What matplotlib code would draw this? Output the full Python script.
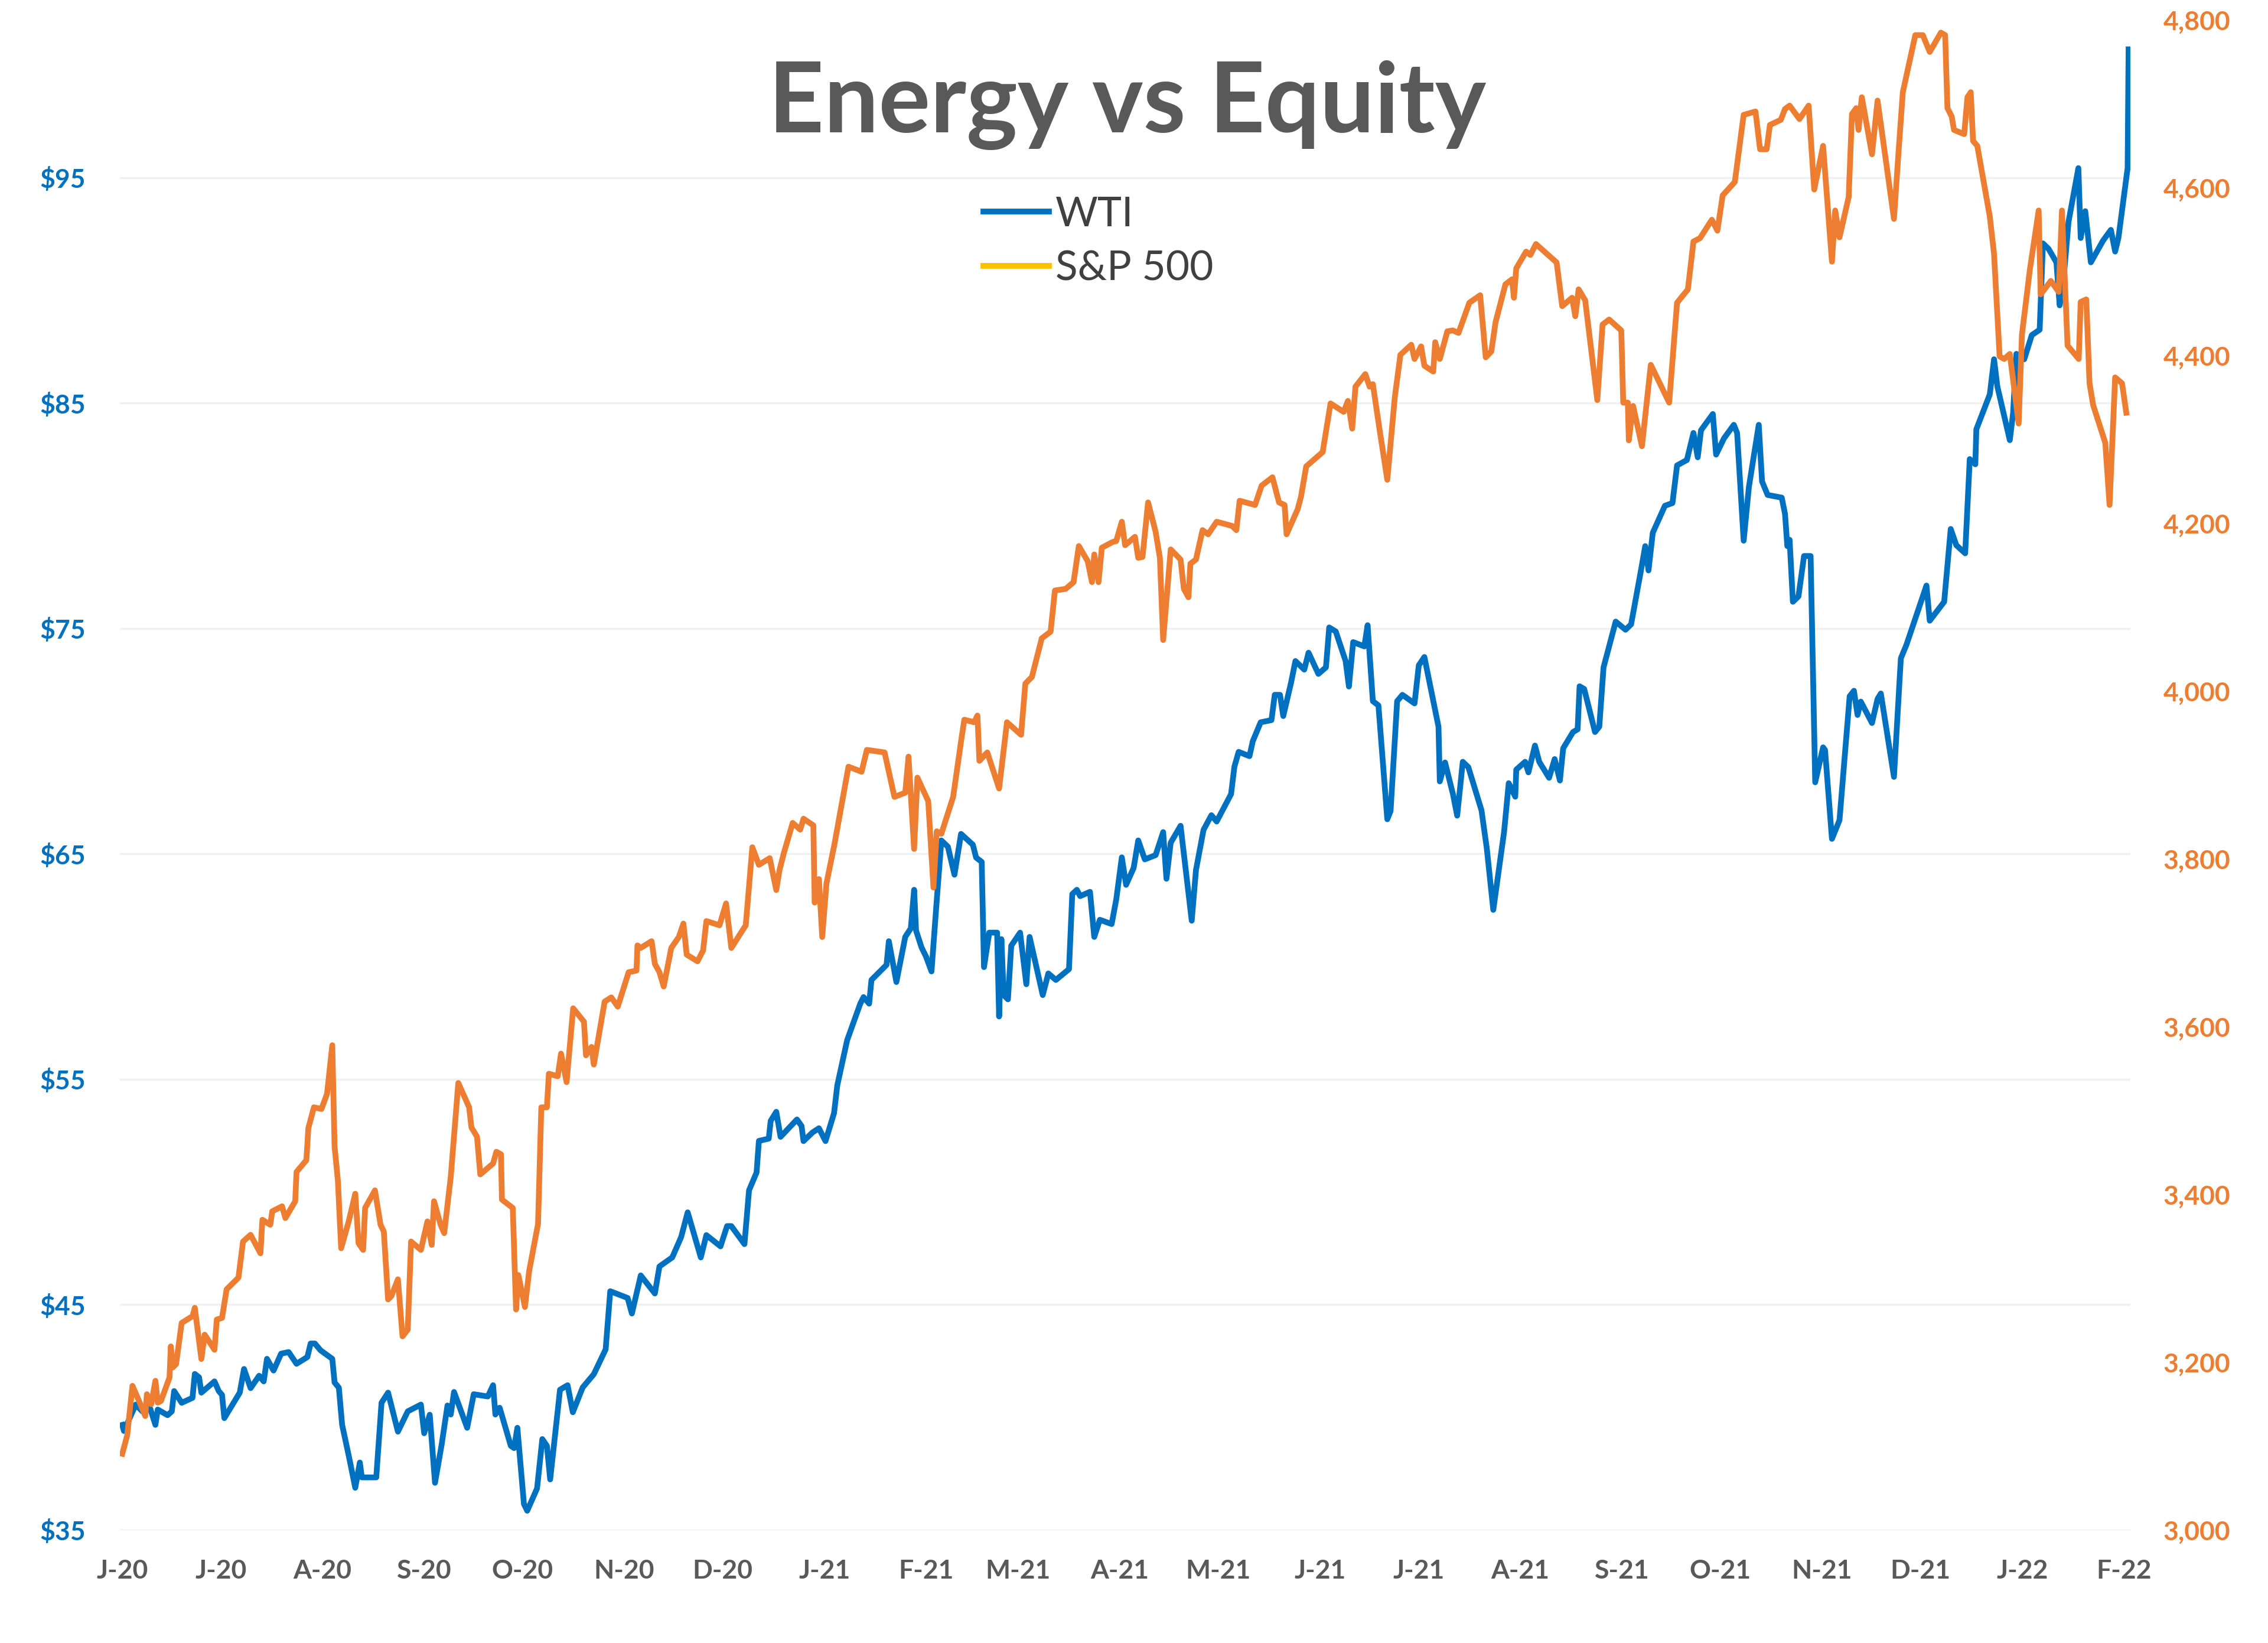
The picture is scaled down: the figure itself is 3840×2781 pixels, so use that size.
import numpy as np
import matplotlib
matplotlib.use("Agg")
import matplotlib.pyplot as plt
import matplotlib.dates as mdates
from matplotlib.lines import Line2D

# days after the first axis tick (1 Jun 2020)
wti_day = [0, 0.5, 4.1, 6.1, 8.5, 10.1, 10.8, 13.8, 15.1, 15.8, 18.1, 21.4, 22.1, 23.4, 24.1,
           28.1, 29.4, 30.4, 31.1, 35.8, 37.1, 39.1, 41.7, 43.1, 44.1, 46.1, 48.4, 50.7, 53.1,
           56.4, 57.4, 58.7, 60.4, 64.0, 64.7, 66.0, 67.0, 69.0, 71.0, 72.4, 73.0, 77.4, 79.0,
           81.0, 84.0, 87.0, 91.0, 92.0, 93.7, 95.3, 97.3,
           99.1, 100.1, 101.1, 105.1, 107.1, 111.4, 113.0, 113.7, 115.0, 118.4, 119.4, 120.4,
           122.4, 123.4, 126.4, 128.0, 129.4, 130.4, 133.4, 135.7, 137.3, 140.3, 143.7, 147.3,
           148.7, 154.0, 155.3, 158.0, 162.3, 163.7, 167.6, 170.3, 172.3, 176.3, 178.0, 182.3,
           184.3, 185.6, 189.6, 191.0, 193.3, 194.0, 197.0, 197.6, 199.3,
           200.6, 205.6, 207.0, 207.6, 210.3, 212.3, 214.3, 216.9, 217.9, 220.9, 224.9, 225.9,
           227.6, 228.3, 232.9, 233.6, 235.9, 238.6, 240.3, 241.3, 241.9, 243.6, 244.9, 246.6,
           248.2, 249.6, 251.6, 253.6, 255.6, 259.2, 260.2, 261.9, 262.6, 264.2, 266.6, 267.2,
           267.9, 268.6, 269.9, 270.9, 273.6, 275.5, 276.5, 280.5, 282.2, 284.5, 288.5, 289.5,
           290.9, 291.9, 294.9, 296.2, 297.9, 301.5,
           302.9, 304.6, 305.9, 308.2, 309.6, 311.6, 314.9, 317.2, 318.2, 319.5, 322.5, 325.9,
           327.2, 329.5, 331.9, 333.5, 337.9, 338.9, 340.2, 343.5, 344.5, 346.9, 350.2, 351.2,
           352.8, 353.8, 356.2, 357.5, 360.2, 361.5, 364.5, 366.8, 367.8, 369.8, 372.8, 373.8,
           375.1, 378.5, 379.5, 381.1, 382.8, 385.5, 386.5, 388.5, 390.1, 393.8, 395.1, 396.8,
           401.1, 401.5, 403.1,
           405.5, 406.8, 408.5, 410.2, 414.2, 415.8, 417.8, 421.1, 422.5, 424.5, 424.8, 427.5,
           428.5, 430.5, 431.8, 434.8, 436.5, 438.1, 439.1, 442.1, 443.5, 444.1, 445.5, 448.8,
           450.1, 451.4, 455.1, 458.1, 459.8, 462.8, 464.1, 465.1, 466.4, 470.1, 472.4, 473.8,
           476.8, 478.8, 480.1, 481.1, 484.7, 485.7, 488.1, 491.1, 492.1, 494.1, 495.7, 498.7,
           499.7, 501.4, 505.7, 506.7, 507.4,
           508.1, 509.1, 510.8, 512.5, 514.5, 515.9, 518.3, 518.9, 521.0, 523.3, 526.4, 527.7,
           528.8, 529.8, 533.2, 534.9, 535.9, 539.9, 542.0, 543.7, 549.8, 550.8, 555.2, 557.2,
           558.9, 561.6, 563.0, 564.7, 565.0, 569.1, 570.4, 571.4, 575.2, 576.2, 577.2, 579.6,
           581.9, 584.3, 585.3, 587.0, 589.4, 590.4, 591.4, 593.1, 596.1, 596.8, 598.2, 599.9,
           603.6, 606.0, 607.3, 608.3, 611.1, 611.4]
wti_val = [39.67, 39.4, 40.57, 40.27, 40.4, 39.67, 40.35, 40.1, 40.27, 41.17, 40.65, 40.87, 41.93,
           41.78, 41.1, 41.6, 41.17, 41.0, 39.97, 41.1, 42.15, 41.3, 41.85, 41.6, 42.6, 42.08,
           42.83, 42.9, 42.38, 42.68, 43.28, 43.28, 42.98, 42.6, 41.55, 41.32, 39.67, 38.31,
           36.88, 38.0, 37.34, 37.34, 40.65, 41.1, 39.37, 40.27, 40.57, 39.3, 40.12, 37.1, 38.77,
           40.53, 40.13, 41.13, 39.54, 41.03, 40.93, 41.43, 40.13, 40.43, 38.74, 38.64, 39.54,
           36.16, 35.86, 36.85, 39.04, 38.74, 37.25, 41.23, 41.43, 40.23, 41.33, 41.92, 43.02,
           45.6, 45.3, 44.61, 46.3, 45.5, 46.7, 47.1, 48.0, 49.1, 47.1, 48.09, 47.59, 48.49,
           48.49, 47.69, 50.08, 50.87, 52.27, 52.37, 53.16, 53.56,
           52.45, 53.22, 52.93, 52.26, 52.64, 52.83, 52.26, 53.5, 54.74, 56.74, 58.36, 58.65,
           58.36, 59.41, 60.08, 61.13, 59.32, 61.32, 61.7, 63.41, 61.6, 60.84, 60.46, 59.79,
           62.94, 65.6, 65.32, 64.08, 65.89, 65.41, 64.84, 64.65, 59.98, 61.51, 61.51, 57.79,
           61.22, 58.74, 58.55, 60.93, 61.51, 59.22, 61.32, 58.74, 59.7, 59.41, 59.89, 63.22,
           63.41, 63.13, 63.32, 61.32, 62.08, 61.89,
           62.98, 64.85, 63.63, 64.38, 65.6, 64.76, 64.95, 65.97, 63.9, 65.5, 66.25, 62.04,
           64.29, 66.07, 66.72, 66.44, 67.66, 68.87, 69.53, 69.34, 70.0, 70.84, 70.94, 72.06,
           72.06, 71.12, 72.62, 73.56, 73.18, 73.93, 72.99, 73.28, 75.05, 74.87, 73.56, 72.43,
           74.4, 74.21, 75.15, 71.78, 71.59, 66.54, 66.91, 71.78, 72.06, 71.68, 73.37, 73.74,
           70.65, 68.22, 69.06,
           67.66, 66.7, 69.09, 68.85, 66.94, 65.27, 62.52, 65.99, 68.14, 67.54, 68.74, 69.09,
           68.62, 69.81, 69.09, 68.38, 69.21, 68.26, 69.69, 70.41, 70.53, 72.44, 72.32, 70.41,
           70.65, 73.28, 75.31, 74.95, 75.19, 77.58, 78.66, 77.58, 79.25, 80.45, 80.57, 82.24,
           82.48, 83.68, 82.6, 83.8, 84.52, 82.72, 83.44, 84.04, 83.68, 78.9, 81.29, 84.04,
           81.53, 80.93, 80.81, 80.09, 78.66,
           78.94, 76.19, 76.43, 78.22, 78.22, 68.18, 69.73, 69.61, 65.67, 66.5, 72.0, 72.24,
           71.17, 71.76, 70.81, 71.88, 72.12, 68.42, 73.68, 74.28, 76.91, 75.35, 76.19, 79.42,
           78.7, 78.34, 82.52, 82.29, 83.84, 85.39, 86.95, 85.75, 83.36, 84.56, 87.19, 86.95,
           88.02, 88.26, 92.09, 91.85, 91.25, 89.34, 90.18, 93.05, 95.43, 92.33, 93.52, 91.25,
           92.21, 92.69, 91.73, 92.33, 95.43, 100.7]

spx_day = [0, 1.5, 3.1, 5.1, 7.0, 7.5, 8.8, 10.1, 10.8, 11.8, 14.4, 14.8, 15.4, 16.4, 18.1, 21.4,
           22.1, 24.1, 25.1, 28.1, 28.8, 30.4, 31.8, 35.4, 36.8, 39.1, 42.1, 42.7, 45.1, 45.7,
           48.7, 49.7, 52.7, 53.1, 56.1, 56.7, 58.4, 60.7, 62.4, 64.0, 64.7, 65.7, 66.7, 69.0,
           71.0, 72.0, 73.4, 74.0, 77.0, 78.7, 79.7, 81.0, 82.0, 84.0, 85.4, 87.0, 88.0, 91.0,
           93.0, 94.3, 95.0, 97.0,
           98.1, 100.1, 102.4, 105.7, 106.4, 108.1, 109.1, 113.0, 114.0, 115.4, 115.7, 119.0,
           120.0, 120.7, 122.7, 124.0, 126.7, 127.7, 129.4, 130.0, 132.7, 133.7, 135.4, 137.4,
           140.7, 141.3, 143.0, 143.7, 147.0, 149.0, 151.0, 154.3, 156.7, 157.0, 158.0, 161.3,
           162.3, 163.7, 165.0, 167.3, 169.6, 171.0, 172.0, 175.3, 177.0, 178.0, 182.0, 184.0,
           185.6, 190.0, 192.0, 194.0, 197.3, 199.3,
           200.3, 201.6, 204.3, 206.6, 207.6, 210.6, 211.0, 212.3, 213.3, 214.6, 217.0, 218.9,
           221.3, 225.3, 226.9, 232.3, 233.6, 235.3, 238.6, 239.6, 241.3, 242.3, 245.6, 247.2,
           248.2, 249.6, 253.2, 255.6, 256.6, 259.6, 260.6, 261.2, 263.6, 267.2, 269.6, 273.9,
           275.2, 277.2, 280.2, 282.9, 284.2, 287.5, 289.9, 291.5, 294.2, 295.5, 296.2, 297.5,
           298.5, 301.9,
           302.9, 304.6, 305.6, 308.6, 309.6, 310.9, 312.6, 314.9, 316.2, 317.2, 319.5, 322.5,
           323.5, 324.9, 325.5, 327.2, 329.2, 330.9, 333.5, 338.2, 339.5, 340.5, 345.2, 347.2,
           350.5, 352.5, 354.2, 354.8, 358.2, 359.2, 360.8, 365.8, 368.2, 372.2, 373.5, 374.8,
           375.8, 378.8, 380.1, 381.1, 383.1, 385.5, 387.8, 389.5, 392.8, 393.8, 395.8, 396.8,
           399.5, 400.1, 401.5, 403.8,
           405.5, 407.2, 410.5, 413.8, 415.5, 417.2, 418.5, 421.5, 423.5, 424.1, 424.8, 427.8,
           429.1, 430.8, 437.1, 438.8, 441.8, 442.8, 443.8, 445.8, 449.5, 451.1, 453.1, 456.8,
           457.4, 458.8, 459.1, 460.4, 463.1, 465.8, 471.4, 473.8, 477.1, 478.8, 480.8, 484.4,
           486.1, 487.7, 491.4, 494.1, 497.7, 499.1, 501.1, 502.1, 505.4, 506.7,
           508.1, 511.1, 513.9, 515.6, 518.3, 521.0, 522.0, 523.3, 526.1, 527.1, 528.4, 529.1,
           530.1, 533.2, 534.9, 536.5, 539.9, 541.3, 542.6, 546.4, 548.7, 550.8, 554.2, 555.5,
           556.2, 557.5, 558.2, 561.3, 562.3, 563.3, 564.0, 565.3, 569.1, 570.4, 572.1, 573.5,
           575.2, 577.9, 578.9, 581.3, 584.0, 584.6, 587.7, 590.1, 591.1, 592.8, 596.2, 596.8,
           598.5, 599.5, 600.6, 604.3, 605.6, 607.3, 609.4, 610.7]
spx_val = [3091, 3113, 3172, 3154, 3136, 3162, 3150, 3178, 3152, 3154, 3182, 3219, 3194, 3198,
           3247, 3255, 3265, 3204, 3233, 3215, 3251, 3253, 3287, 3301, 3344, 3352, 3330, 3370,
           3364, 3380, 3386, 3372, 3392, 3427, 3441, 3479, 3504, 3502, 3520, 3578, 3457, 3417,
           3336, 3368, 3401, 3342, 3334, 3384, 3405, 3364, 3356, 3275, 3279, 3299, 3231, 3239,
           3344, 3334, 3368, 3340, 3392, 3364,
           3354, 3421, 3533, 3504, 3480, 3469, 3424, 3437, 3451, 3448, 3394, 3384, 3263, 3304,
           3266, 3309, 3365, 3504, 3504, 3544, 3541, 3568, 3534, 3622, 3606, 3566, 3576, 3555,
           3630, 3635, 3624, 3665, 3667, 3697, 3694, 3702, 3675, 3665, 3648, 3694, 3707, 3723,
           3686, 3678, 3691, 3726, 3721, 3747, 3694, 3721, 3814, 3793, 3801, 3763,
           3787, 3807, 3843, 3835, 3848, 3840, 3748, 3776, 3707, 3771, 3817, 3858, 3910, 3904,
           3930, 3927, 3904, 3874, 3879, 3922, 3812, 3897, 3869, 3766, 3833, 3830, 3874, 3940,
           3966, 3963, 3971, 3917, 3927, 3884, 3963, 3948, 4009, 4017, 4063, 4071, 4120, 4122,
           4130, 4173, 4155, 4130, 4163, 4130, 4171, 4178,
           4179, 4202, 4174, 4184, 4159, 4160, 4225, 4190, 4159, 4061, 4169, 4157, 4122, 4112,
           4152, 4157, 4192, 4187, 4202, 4197, 4192, 4227, 4222, 4245, 4255, 4225, 4222, 4187,
           4217, 4232, 4268, 4285, 4343, 4333, 4346, 4313, 4363, 4378, 4363, 4366, 4313, 4252,
           4351, 4401, 4413, 4396, 4411, 4388, 4381, 4416, 4396, 4429,
           4430, 4427, 4463, 4472, 4398, 4405, 4440, 4485, 4491, 4469, 4504, 4524, 4520, 4533,
           4511, 4459, 4469, 4447, 4479, 4466, 4347, 4437, 4443, 4430, 4344, 4344, 4299, 4340,
           4292, 4389, 4344, 4463, 4479, 4536, 4540, 4562, 4549, 4591, 4607, 4687, 4691, 4646,
           4646, 4675, 4681, 4694,
           4698, 4682, 4698, 4598, 4650, 4512, 4573, 4541, 4589, 4688, 4695, 4669, 4708, 4640,
           4704, 4659, 4563, 4643, 4714, 4782, 4782, 4762, 4785, 4782, 4695, 4685, 4669, 4664,
           4708, 4714, 4656, 4650, 4566, 4521, 4399, 4396, 4402, 4319, 4425, 4502, 4573, 4473,
           4489, 4476, 4573, 4412, 4396, 4464, 4467, 4367, 4341, 4296, 4222, 4374, 4367, 4332]

START = mdates.date2num(np.datetime64("2020-06-01"))
BLUE = "#0070C0"
ORANGE = "#ED7D31"
GOLD = "#FFC000"
GREY = "#595959"

plt.rcParams["font.family"] = ["Lato", "DejaVu Sans"]

fig = plt.figure(figsize=(38.4, 27.81), dpi=100, facecolor="white")
ax = fig.add_axes([0.0529, 0.0687, 0.8865, 0.9191])
ax2 = ax.twinx()

ax.plot(START + np.array(wti_day), wti_val, color=BLUE, linewidth=7, solid_joinstyle="round")
ax2.plot(START + np.array(spx_day), spx_val, color=ORANGE, linewidth=7, solid_joinstyle="round")

ax.set_xlim(START - 0.7, START + 612)
ax.set_ylim(35, 102)
ax2.set_ylim(3000, 4800)
ax.set_yticks(np.arange(35, 96, 10))
ax2.set_yticks(np.arange(3000, 4801, 200))

ax.xaxis.set_major_locator(mdates.MonthLocator())
ax.xaxis.set_major_formatter(
    plt.FuncFormatter(lambda v, _: mdates.num2date(v).strftime("%b")[0] + "-" + mdates.num2date(v).strftime("%y")))
ax.yaxis.set_major_formatter(plt.FuncFormatter(lambda v, _: f"${v:.0f}"))
ax2.yaxis.set_major_formatter(plt.FuncFormatter(lambda v, _: f"{v:,.0f}"))

ax.grid(axis="y", color="#F0F0F0", linewidth=2.5)
ax.set_axisbelow(True)
for a in (ax, ax2):
    for s in a.spines.values():
        s.set_visible(False)

ax.tick_params(axis="x", length=0, pad=35, labelsize=32, labelcolor=GREY)
ax.tick_params(axis="y", length=0, pad=42, labelsize=32, labelcolor=BLUE)
ax2.tick_params(axis="y", length=0, pad=40, labelsize=32, labelcolor=ORANGE)
for lab in ax.get_xticklabels() + ax.get_yticklabels() + ax2.get_yticklabels():
    lab.set_fontweight("bold")

fig.text(0.497, 0.9195, "Energy vs Equity", ha="center", va="baseline",
         fontsize=118, fontweight="bold", color=GREY)

handles = [Line2D([], [], color=BLUE, linewidth=7),
           Line2D([], [], color=GOLD, linewidth=7)]
fig.legend(handles, ["WTI", "S&P 500"], loc="upper left", bbox_to_anchor=(0.4336, 0.8807),
           frameon=False, fontsize=50, handlelength=1.6, handletextpad=0.15,
           labelspacing=0.41, borderpad=0, borderaxespad=0, labelcolor="#404040")

fig.savefig("out.png", dpi=100, facecolor="white")
